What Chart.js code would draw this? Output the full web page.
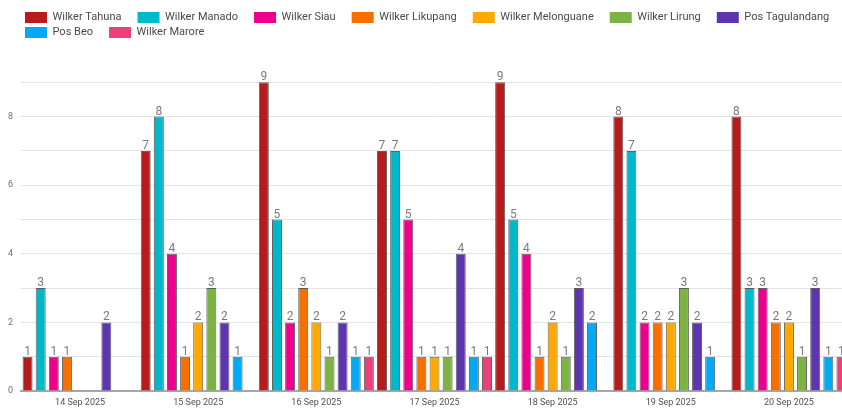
<!DOCTYPE html>
<html><head><meta charset="utf-8">
<script src="https://cdn.jsdelivr.net/npm/chart.js@4.4.1/dist/chart.umd.min.js"></script>
<style>
html,body{margin:0;padding:0;background:#fff;overflow:hidden;width:842px;height:408px}
#wrap{position:absolute;left:0;top:0;width:848px;height:408px}
</style>
</head><body><div id="wrap"><canvas id="c" width="848" height="408"></canvas></div>
<script>
const categories = ['14 Sep 2025','15 Sep 2025','16 Sep 2025','17 Sep 2025','18 Sep 2025','19 Sep 2025','20 Sep 2025'];
const seriesNames = ['Wilker Tahuna','Wilker Manado','Wilker Siau','Wilker Likupang','Wilker Melonguane','Wilker Lirung','Pos Tagulandang','Pos Beo','Wilker Marore'];
const seriesColors = ['#b71c1c','#00b8cc','#ec008c','#f57000','#ffa800','#7cb342','#5e35b1','#03a9f4','#ec407a'];
const wilkerTahuna     = [1,7,9,7,9,8,8];
const wilkerManado     = [3,8,5,7,5,7,3];
const wilkerSiau       = [1,4,2,5,4,2,3];
const wilkerLikupang   = [1,1,3,1,1,2,2];
const wilkerMelonguane = [0,2,2,1,2,2,2];
const wilkerLirung     = [0,3,1,1,1,3,1];
const posTagulandang   = [2,2,2,4,3,2,3];
const posBeo           = [0,1,1,1,2,1,1];
const wilkerMarore     = [0,0,1,1,0,0,1];
const yTickLabels = [0,2,4,6,8];
const yMax = 10;

const seriesValues = [wilkerTahuna,wilkerManado,wilkerSiau,wilkerLikupang,wilkerMelonguane,wilkerLirung,posTagulandang,posBeo,wilkerMarore];

const datasets = seriesNames.map((name,i)=>({
  label: name,
  data: seriesValues[i],
  backgroundColor: seriesColors[i],
  borderColor: 'rgba(45,45,45,0.75)',
  borderWidth: (ctx)=> (ctx.raw > 0 ? 1 : 0),
  barPercentage: 0.76,
  categoryPercentage: 1.0
}));

const valueLabels = {
  id: 'valueLabels',
  afterDatasetsDraw(chart){
    const ctx = chart.ctx;
    ctx.save();
    ctx.font = '12px Roboto';
    ctx.fillStyle = '#7a7a7a';
    ctx.textAlign = 'center';
    ctx.textBaseline = 'alphabetic';
    chart.data.datasets.forEach((ds,di)=>{
      const meta = chart.getDatasetMeta(di);
      meta.data.forEach((el,j)=>{
        const v = ds.data[j];
        if (v > 0) ctx.fillText(String(v), el.x, el.y - 2);
      });
    });
    ctx.restore();
  }
};

const legendShift = {
  id: 'legendShift',
  afterLayout(chart){
    const l = chart.legend;
    if (l) { l.left += 21; l.right += 21; }
  }
};

new Chart(document.getElementById('c'), {
  type: 'bar',
  data: { labels: categories, datasets },
  options: {
    responsive: false,
    animation: false,
    devicePixelRatio: 1,
    layout: { padding: { top: 8, left: 0, right: 0, bottom: 0 } },
    plugins: {
      tooltip: { enabled: false },
      legend: {
        position: 'top',
        align: 'start',
        labels: {
          boxWidth: 22,
          boxHeight: 11,
          padding: 4,
          color: '#4a4a4a',
          font: { family: 'Roboto', size: 11 },
          generateLabels(chart){
            const items = Chart.defaults.plugins.legend.labels.generateLabels(chart);
            items.forEach(it=>{ it.text = it.text + '    \u200A'; it.lineWidth = 0; it.strokeStyle = 'rgba(0,0,0,0)'; });
            return items;
          }
        }
      }
    },
    scales: {
      x: {
        afterFit(scale){ scale.height = 17; },
        grid: { display: true, drawOnChartArea: false, drawTicks: false, color: 'rgba(0,0,0,0)' },
        border: { display: true, color: '#a6a6a6', width: 2 },
        ticks: { color: '#505050', font: { family: 'Roboto', size: 9 }, padding: 6, maxRotation: 0, autoSkip: false }
      },
      y: {
        min: 0,
        max: yMax,
        afterFit(scale){ scale.width = 21; },
        border: { display: false },
        grid: {
          drawTicks: false,
          lineWidth: 1,
          color: (ctx)=> (ctx.tick && (ctx.tick.value === 0 || ctx.tick.value === yMax)) ? 'rgba(0,0,0,0)' : '#e4e4e4'
        },
        ticks: {
          stepSize: 1,
          padding: 8,
          color: '#707070',
          font: { family: 'Roboto', size: 9 },
          callback: (v)=> yTickLabels.includes(v) ? String(v) : ''
        }
      }
    }
  },
  plugins: [valueLabels, legendShift]
});
</script>
</body></html>
